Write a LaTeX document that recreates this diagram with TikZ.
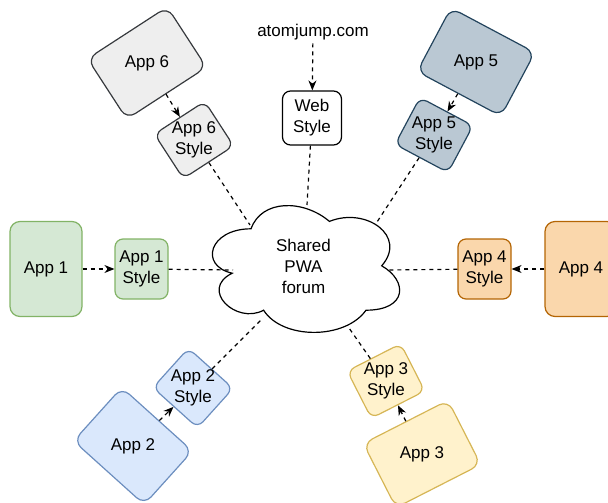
\documentclass[tikz,border=0pt]{standalone}
\usepackage{fontspec}
\setmainfont{Liberation Sans}
\usetikzlibrary{arrows.meta,calc}

\definecolor{greenfill}{HTML}{D5E8D4}
\definecolor{greenline}{HTML}{82B366}
\definecolor{bluefill}{HTML}{DAE8FC}
\definecolor{blueline}{HTML}{6C8EBF}
\definecolor{yellowfill}{HTML}{FFF2CC}
\definecolor{yellowline}{HTML}{D6B656}
\definecolor{orangefill}{HTML}{FAD7AC}
\definecolor{orangeline}{HTML}{B46504}
\definecolor{greyfill}{HTML}{EEEEEE}
\definecolor{greyline}{HTML}{36393D}
\definecolor{slatefill}{HTML}{BAC8D3}
\definecolor{slateline}{HTML}{23445D}

\begin{document}
\begin{tikzpicture}[x=1pt, y=-1pt,
	every node/.style = {font=\fontsize{17}{21}\selectfont, align=center},
	appbox/.style = {draw, line width=1.2pt, rounded corners=10pt, minimum width=72pt, minimum height=95pt, inner sep=0pt},
	stylebox/.style = {draw, line width=1.2pt, rounded corners=8pt, minimum width=53pt, minimum height=60pt, inner sep=0pt},
	tiltapp/.style = {appbox, minimum width=95pt, minimum height=72pt},
	tiltstyle/.style = {stylebox, minimum width=60pt, minimum height=53pt},
	link/.style = {line width=1.2pt, dash pattern=on 4pt off 4pt},
	feed/.style = {link, -{Stealth[length=10pt, width=8pt]}}]
	            \useasboundingbox (0,0) rectangle (608,503);
	            % the forum in the middle
	            \node [minimum width=209pt, minimum height=148pt] (cloud) at (303.5,266) {Shared\\PWA\\forum};
	            \begin{scope}[shift={(cloud.north west)}, x=209pt, y=-148pt]
	            \draw [line width=1.2pt] (0.25,0.25) .. controls (0.05,0.25) and (0,0.5) .. (0.16,0.55)
	                .. controls (0,0.66) and (0.18,0.9) .. (0.31,0.8)
	                .. controls (0.4,1) and (0.7,1) .. (0.8,0.8)
	                .. controls (1,0.8) and (1,0.6) .. (0.875,0.5)
	                .. controls (1,0.3) and (0.8,0.1) .. (0.625,0.2)
	                .. controls (0.5,0.05) and (0.3,0.05) .. (0.25,0.25) -- cycle;
	            \end{scope}
	            \coordinate (c1) at (233,270);
	            \coordinate (c2) at (262,319);
	            \coordinate (c3) at (349,328);
	            \coordinate (c4) at (387,270);
	            \coordinate (c5) at (377,222);
	            \coordinate (c6) at (250,225);
	            \coordinate (cweb) at (307,205);
	            % web
	            \node (site) at (313,32) {atomjump.com};
	            \node [stylebox, minimum width=59pt, minimum height=54pt] (web) at (312,118) {Web\\Style};
	            \draw [feed] (site) -- (web);
	            \draw [link] (web) -- (cweb);
	            % app 1
	            \node [appbox, fill=greenfill, draw=greenline] (a1) at (46,269) {App 1};
	            \node [stylebox, fill=greenfill, draw=greenline] (s1) at (141.5,269) {App 1\\Style};
	            \draw [feed] (a1) -- (s1);
	            \draw [link] (s1) -- (c1);
	            % app 4
	            \node [appbox, fill=orangefill, draw=orangeline] (a4) at (581,269) {App 4};
	            \node [stylebox, fill=orangefill, draw=orangeline] (s4) at (484.5,269) {App 4\\Style};
	            \draw [feed] (a4) -- (s4);
	            \draw [link] (s4) -- (c4);
	            % app 6
	            \node [tiltapp, rotate=33, fill=greyfill, draw=greyline] (a6) at (147,63) {};
	            \node at (a6) {App 6};
	            \node [tiltstyle, rotate=33, fill=greyfill, draw=greyline] (s6) at (194,140) {};
	            \node at (s6) {App 6\\Style};
	            \draw [feed] (a6) -- (s6);
	            \draw [link] (s6) -- (c6);
	            % app 5
	            \node [tiltapp, rotate=-28, fill=slatefill, draw=slateline] (a5) at (476,62) {};
	            \node at (a5) {App 5};
	            \node [tiltstyle, rotate=-28, fill=slatefill, draw=slateline] (s5) at (434,135) {};
	            \node at (s5) {App 5\\Style};
	            \draw [feed] (a5) -- (s5);
	            \draw [link] (s5) -- (c5);
	            % app 2
	            \node [tiltapp, rotate=-42, fill=bluefill, draw=blueline] (a2) at (133,446) {};
	            \node at (a2) {App 2};
	            \node [tiltstyle, rotate=-42, fill=bluefill, draw=blueline] (s2) at (193,388) {};
	            \node at (s2) {App 2\\Style};
	            \draw [feed] (a2) -- (s2);
	            \draw [link] (s2) -- (c2);
	            % app 3
	            \node [tiltapp, rotate=27, fill=yellowfill, draw=yellowline] (a3) at (422,454) {};
	            \node at (a3) {App 3};
	            \node [tiltstyle, rotate=27, fill=yellowfill, draw=yellowline] (s3) at (386,381) {};
	            \node at (s3) {App 3\\Style};
	            \draw [feed] (a3) -- (s3);
	            \draw [link] (s3) -- (c3);
\end{tikzpicture}
\end{document}
